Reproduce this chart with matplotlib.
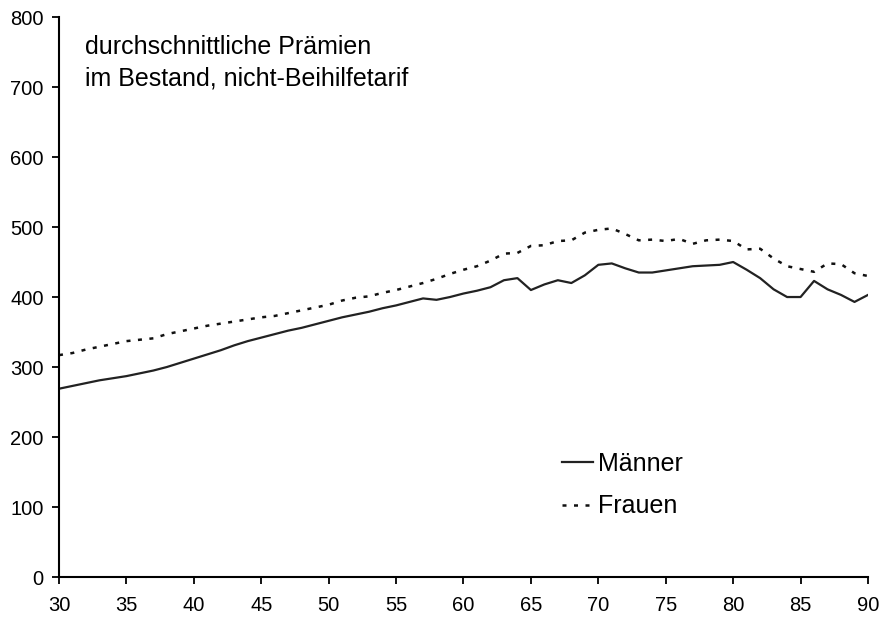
import matplotlib
import matplotlib.pyplot as plt

matplotlib.use("Agg")

plt.rcParams["font.family"] = ["Liberation Sans", "DejaVu Sans"]

ages = list(range(30, 91))

maenner = [269, 273, 277, 281, 284, 287, 291, 295, 300, 306,
           312, 318, 324, 331, 337, 342, 347, 352, 356, 361,
           366, 371, 375, 379, 384, 388, 393, 398, 396, 400,
           405, 409, 414, 424, 427, 410, 418, 424, 420, 431,
           446, 448, 441, 435, 435, 438, 441, 444, 445, 446,
           450, 439, 427, 411, 400, 400, 423, 411, 403, 393,
           403]

frauen = [317, 320, 325, 329, 333, 337, 339, 341, 347, 351,
          355, 359, 362, 365, 368, 371, 373, 377, 381, 385,
          389, 395, 399, 401, 406, 410, 415, 420, 426, 433,
          439, 444, 452, 462, 463, 473, 474, 480, 481, 492,
          496, 498, 490, 481, 482, 480, 483, 476, 481, 482,
          480, 468, 469, 455, 444, 440, 436, 448, 447, 434,
          430]

x_ticks = list(range(30, 91, 5))
y_ticks = list(range(0, 801, 100))

fig = plt.figure(figsize=(8.83, 6.17), dpi=100)
ax = fig.add_axes([0.0668, 0.0648, 0.9162, 0.9076])

ax.plot(ages, maenner, color="#222222", lw=1.6, label="Männer")
ax.plot(ages, frauen, color="#111111", lw=1.8, linestyle=(0, (1.6, 3)), label="Frauen")

ax.set_xlim(30, 90)
ax.set_ylim(0, 800)
ax.set_xticks(x_ticks)
ax.set_yticks(y_ticks)

for side in ("top", "right"):
    ax.spines[side].set_visible(False)
for side in ("left", "bottom"):
    ax.spines[side].set_linewidth(1.5)
    ax.spines[side].set_color("black")

ax.tick_params(axis="both", direction="out", length=5, width=1.3, labelsize=14.5)
ax.tick_params(axis="x", pad=9)
ax.tick_params(axis="y", pad=6)

ax.text(0.032, 0.968, "durchschnittliche Prämien\nim Bestand, nicht-Beihilfetarif",
        transform=ax.transAxes, fontsize=18, va="top", ha="left", linespacing=1.38)

ax.legend(loc="upper left", bbox_to_anchor=(0.6218, 0.2232), frameon=False, fontsize=18,
          handlelength=1.25, handletextpad=0.2, labelspacing=0.73,
          borderpad=0, borderaxespad=0)

fig.savefig("out.png", dpi=100)
